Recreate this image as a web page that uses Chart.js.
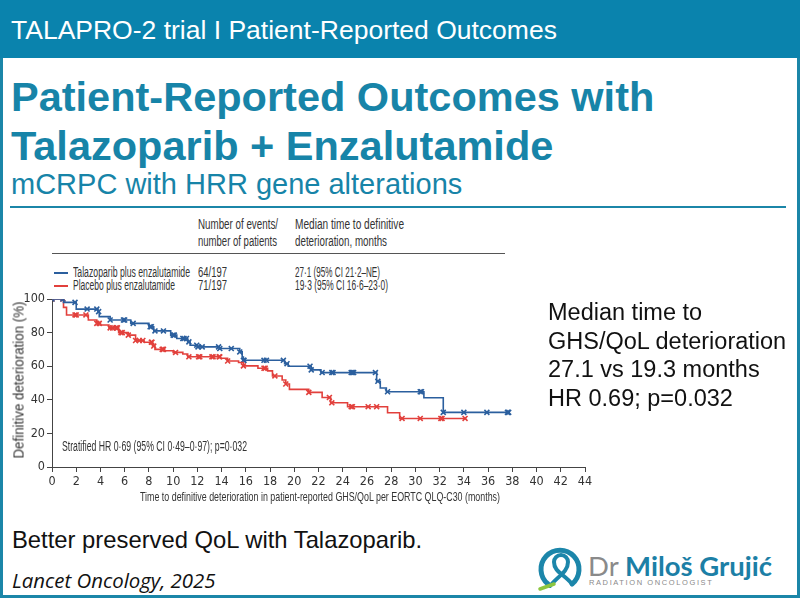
<!DOCTYPE html>
<html>
<head>
<meta charset="utf-8">
<script src="https://cdn.jsdelivr.net/npm/chart.js@4.4.1/dist/chart.umd.min.js"></script>
<style>
  html, body { margin:0; padding:0; background:#fff; }
  body { width:800px; height:600px; position:relative; overflow:hidden; font-family:"Liberation Sans", Arial, sans-serif; }
  .abs { position:absolute; white-space:nowrap; }
  #banner { left:0; top:0; width:800px; height:58px; background:#0a83ad; }
  #frame { left:0; top:58px; width:794px; height:537px; border:3px solid #1b86a8; border-top:none; }
  .fig { font-family:"Liberation Sans", Arial, sans-serif; color:#333; font-size:14px; line-height:15px; transform-origin:left center; }
</style>
</head>
<body>
<div id="banner" class="abs"></div>
<div id="frame" class="abs"></div>
<div class="abs" style="left:11px;top:15px;font-size:26.5px;color:#fff;">TALAPRO-2 trial I Patient-Reported Outcomes</div>
<div class="abs" style="left:11px;top:73px;font-size:41.5px;font-weight:bold;color:#1784a8;">Patient-Reported Outcomes with</div>
<div class="abs" style="left:11px;top:122px;font-size:41.5px;font-weight:bold;color:#1784a8;">Talazoparib + Enzalutamide</div>
<div class="abs" style="left:11px;top:168px;font-size:29px;color:#1784a8;">mCRPC with HRR gene alterations</div>
<div class="abs" style="left:10px;top:206px;width:776px;height:2px;background:#1b86a8;"></div>

<!-- legend table -->
<div class="abs fig" data-w="80" style="left:198px;top:217px;">Number of events/</div>
<div class="abs fig" data-w="79" style="left:198px;top:234px;">number of patients</div>
<div class="abs fig" data-w="109" style="left:295px;top:217px;">Median time to definitive</div>
<div class="abs fig" data-w="92" style="left:295px;top:234px;">deterioration, months</div>
<div class="abs" style="left:52px;top:253px;width:453px;height:1px;background:#555;"></div>
<div class="abs" style="left:54px;top:272px;width:14px;height:1.5px;background:#2b5f9e;"></div>
<div class="abs" style="left:54px;top:285px;width:14px;height:1.5px;background:#e2403c;"></div>
<div class="abs fig" data-w="117" style="left:73px;top:265px;">Talazoparib plus enzalutamide</div>
<div class="abs fig" data-w="102" style="left:73px;top:278px;">Placebo plus enzalutamide</div>
<div class="abs fig" data-w="29" style="left:198px;top:265px;">64/197</div>
<div class="abs fig" data-w="29" style="left:198px;top:278px;">71/197</div>
<div class="abs fig" data-w="85" style="left:295px;top:265px;">27·1 (95% CI 21·2–NE)</div>
<div class="abs fig" data-w="93" style="left:295px;top:278px;">19·3 (95% CI 16·6–23·0)</div>

<div class="abs" style="left:0;top:210px;width:600px;height:300px;">
  <canvas id="c" width="600" height="300"></canvas>
</div>
<div class="abs fig" data-w="185" style="left:62px;top:439px;">Stratified HR 0·69 (95% CI 0·49–0·97); p=0·032</div>
<div class="abs fig" id="xtitle" data-w="360" data-c="1" style="left:320px;top:489px;font-size:13.5px;">Time to definitive deterioration in patient-reported GHS/QoL per EORTC QLQ-C30 (months)</div>
<div class="abs fig" id="ytitle" data-w="157" data-r="1" style="left:18px;top:380px;font-size:15px;">Definitive deterioration (%)</div>

<div class="abs" style="left:548px;top:298px;font-size:23.5px;line-height:28.5px;color:#111;">Median time to<br>GHS/QoL deterioration<br>27.1 vs 19.3 months<br>HR 0.69; p=0.032</div>

<div class="abs" style="left:12px;top:526px;font-size:23.8px;color:#111;">Better preserved QoL with Talazoparib.</div>
<div class="abs" style="left:12px;top:566px;font-size:20.4px;font-style:italic;color:#111;font-family:'Open Sans',sans-serif;">Lancet Oncology, 2025</div>

<!-- logo -->
<svg class="abs" style="left:534px;top:544px;" width="52" height="50">
  <path d="M14 40 A19 19 0 1 1 38 40" fill="none" stroke="#1c86aa" stroke-width="5" stroke-linecap="round"/>
  <path d="M38 40 C30 30 20 28 20 18 A7 7 0 0 1 34 18 C34 28 24 32 16 42" fill="none" stroke="#1c86aa" stroke-width="4" stroke-linecap="round"/>
  <path d="M6 45 L20 40" stroke="#8cc63f" stroke-width="3.5" stroke-linecap="round"/>
</svg>
<div class="abs" style="left:588px;top:549px;font-size:27.5px;font-family:Lato,'Liberation Sans',sans-serif;"><span style="color:#8a8a8a;">Dr </span><span style="color:#1c7fa6;font-weight:bold;">Miloš Grujić</span></div>
<div class="abs" style="left:589px;top:578px;font-size:7.5px;letter-spacing:1.6px;color:#8a8a8a;">RADIATION ONCOLOGIST</div>

<script>
// Kaplan-Meier steps: (time in months, % without definitive deterioration)
const talaTimes = [0, 0.95, 2.0, 3.8, 3.9, 4.8, 6.5, 8.0, 8.4, 9.8, 10.3, 11.2, 11.4, 12.0, 13.8, 15.5, 15.7, 15.8, 19.2, 19.5, 21.4, 22.2, 26.8, 27.1, 27.6, 30.7, 32.3, 37.8];
const talaValues = [100, 98, 94, 92.5, 89.5, 87.5, 85.5, 83.5, 81, 78.5, 76.5, 74.5, 72.5, 71.5, 70.5, 68.5, 65.5, 63.5, 61.5, 60, 57.8, 56.2, 51, 47, 44.8, 41.2, 32.5, 32.5];
const placTimes = [0, 0.95, 1.2, 3.0, 3.7, 4.0, 4.7, 5.5, 6.3, 6.9, 7.6, 8.3, 8.5, 9.3, 10.0, 10.8, 11.2, 13.9, 14.5, 15.4, 15.8, 17.0, 17.8, 18.2, 19.0, 19.3, 19.6, 21.2, 22.3, 23.0, 24.4, 27.7, 28.7, 34.2];
const placValues = [100, 95, 90.5, 87.5, 85.5, 84.5, 82.8, 80, 78.5, 75.3, 74.3, 72, 70, 69.2, 68.2, 67.3, 65.6, 64.7, 63.1, 62.2, 60.2, 58.8, 57.2, 54.2, 51.8, 49.4, 46.2, 44.4, 41.4, 38.2, 35.9, 32.3, 28.9, 28.9];
// censoring times
const talaCensored = [0, 0.9, 1.9, 2.9, 3.7, 3.85, 4.8, 5.9, 6.0, 6.7, 8.1, 8.2, 8.5, 9.2, 10.0, 10.1, 10.8, 10.9, 11.1, 11.3, 11.95, 12.05, 12.4, 13.75, 13.85, 14.8, 15.5, 15.8, 15.85, 17.5, 17.7, 19.1, 19.4, 21.3, 21.4, 22.3, 23.1, 23.2, 24.7, 24.8, 24.9, 26.7, 26.9, 27.7, 30.4, 30.5, 32.3, 34.0, 35.9, 37.6, 37.7];
const placCensored = [0, 0.9, 1.9, 2.0, 2.8, 3.7, 3.9, 4.8, 5.0, 5.3, 5.4, 5.7, 5.8, 6.3, 6.9, 7.2, 7.5, 8.2, 8.25, 8.4, 9.1, 9.2, 10.2, 11.3, 12.1, 12.2, 13.2, 13.3, 13.8, 13.85, 14.5, 15.8, 17.5, 17.6, 18.4, 19.3, 21.2, 22.9, 23.1, 24.7, 24.8, 26.1, 26.8, 28.9, 30.4, 32.1, 32.2, 34.1];
const xTicks = [0,2,4,6,8,10,12,14,16,18,20,22,24,26,28,30,32,34,36,38,40,42,44];
const yTicks = [0,20,40,60,80,100];
const seriesNames = ['Talazoparib plus enzalutamide', 'Placebo plus enzalutamide'];

// fit condensed figure text to its measured width
document.querySelectorAll('[data-w]').forEach(el => {
  const w = el.getBoundingClientRect().width;
  const k = (+el.dataset.w) / w;
  if (el.dataset.c) { el.style.transformOrigin = '0 0'; el.style.transform = `scaleX(${k}) translateX(-50%)`; }
  else if (el.dataset.r) { el.style.transformOrigin = '0 0'; el.style.transform = `rotate(-90deg) scaleX(${k}) translate(-50%, -50%)`; }
  else el.style.transform = `scaleX(${k})`;
});

const BLUE = '#2b5f9e', RED = '#e2403c';
function steps(t, v) { return t.map((x, i) => ({ x: x, y: v[i] })); }
function valueAt(t, v, time) {
  let val = v[0];
  for (let i = 0; i < t.length; i++) { if (t[i] <= time) val = v[i]; }
  return val;
}
function marks(t, v, c) { return c.map(x => ({ x: x, y: valueAt(t, v, x) })); }

const font = { family: "'DejaVu Sans Condensed','Liberation Sans',sans-serif", size: 12.5 };

new Chart(document.getElementById('c'), {
  type: 'scatter',
  data: {
    datasets: [
      { type: 'line', label: seriesNames[0], data: steps(talaTimes, talaValues), stepped: 'before', borderColor: BLUE, borderWidth: 1.6, pointRadius: 0, fill: false },
      { type: 'line', label: seriesNames[1], data: steps(placTimes, placValues), stepped: 'before', borderColor: RED, borderWidth: 1.6, pointRadius: 0, fill: false },
      { label: 'tala censored', data: marks(talaTimes, talaValues, talaCensored), pointStyle: 'crossRot', pointRadius: 3.5, borderColor: BLUE, borderWidth: 1.6, backgroundColor: BLUE },
      { label: 'plac censored', data: marks(placTimes, placValues, placCensored), pointStyle: 'crossRot', pointRadius: 3.5, borderColor: RED, borderWidth: 1.6, backgroundColor: RED }
    ]
  },
  options: {
    responsive: false,
    devicePixelRatio: 1,
    animation: false,
    layout: { padding: { left: 0, right: 15, top: 89, bottom: 0 } },
    plugins: { legend: { display: false }, tooltip: { enabled: false } },
    scales: {
      x: {
        type: 'linear', min: 0, max: 44,
        afterBuildTicks: s => { s.ticks = xTicks.map(v => ({ value: v })); },
        afterFit: s => { s.height = 43; },
        grid: { drawOnChartArea: false, drawTicks: true, tickLength: 5, color: '#444', lineWidth: 1 },
        border: { display: true, color: '#444', width: 1 },
        ticks: { color: '#333', font: font, padding: 2, maxRotation: 0, autoSkip: false },
        title: { display: false }
      },
      y: {
        min: 0, max: 100,
        afterBuildTicks: s => { s.ticks = yTicks.map(v => ({ value: v })); },
        afterFit: s => { s.width = 52; },
        grid: { drawOnChartArea: false, drawTicks: true, tickLength: 5, color: '#444', lineWidth: 1 },
        border: { display: true, color: '#444', width: 1 },
        ticks: { color: '#333', font: font, padding: 2 },
        title: { display: false }
      }
    }
  }
});
</script>
</body>
</html>
